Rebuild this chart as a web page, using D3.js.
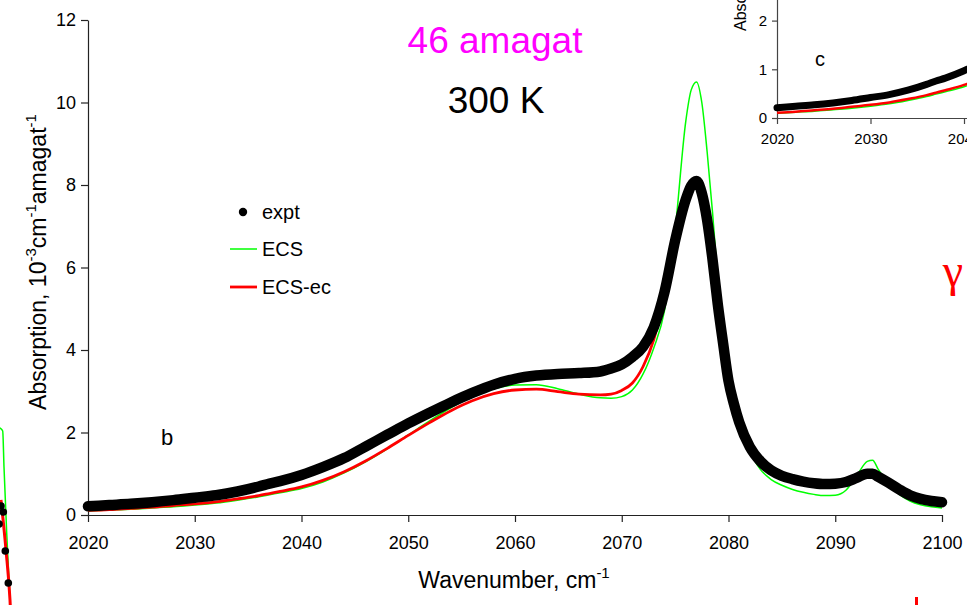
<!DOCTYPE html>
<html>
<head>
<meta charset="utf-8">
<script src="https://cdn.jsdelivr.net/npm/d3@7"></script>
<style>
  html, body { margin: 0; padding: 0; background: #fff; }
  svg { display: block; font-family: "Liberation Sans", Arial, sans-serif; }
</style>
</head>
<body>
<svg id="chart" width="967" height="605"></svg>
<script>
// Spectral grid, cm-1
const wavenumber = [2020,2022,2024,2026,2028,2030,2032,2034,2036,2037,2038,2040,2042,2044,2046,2048,2050,2052,2054,2056,2058,2060,2062,2064,2066,2068,2069,2070,2071,2072,2073,2074,2075,2076,2076.5,2077,2077.5,2078,2078.5,2079,2079.5,2080,2080.5,2081,2082,2083,2084,2085,2086,2087,2088,2089,2090,2091,2092,2093,2093.5,2094,2095,2096,2097,2098,2099,2100];

// Absorption, 10^-3 cm^-1 amagat^-1
const expt = [0.21,0.24,0.27,0.31,0.36,0.42,0.48,0.57,0.69,0.76,0.82,0.97,1.16,1.38,1.66,1.94,2.22,2.48,2.73,2.96,3.16,3.30,3.38,3.42,3.44,3.48,3.55,3.65,3.83,4.08,4.55,5.4,6.65,7.65,7.98,8.1,7.8,7.15,6.2,5.1,4.15,3.25,2.7,2.25,1.65,1.3,1.08,0.95,0.87,0.81,0.77,0.75,0.76,0.8,0.9,1.0,1.0,0.93,0.78,0.62,0.48,0.39,0.34,0.31];
const ecs = [0.10,0.12,0.14,0.17,0.20,0.24,0.29,0.36,0.44,0.49,0.54,0.64,0.80,1.02,1.29,1.60,1.94,2.28,2.60,2.88,3.06,3.15,3.16,3.06,2.93,2.84,2.83,2.87,3.03,3.42,4.05,4.95,6.9,9.55,10.3,10.5,10.0,8.8,7.35,5.7,4.4,3.35,2.7,2.2,1.55,1.1,0.86,0.72,0.62,0.55,0.5,0.47,0.48,0.6,0.95,1.3,1.33,1.12,0.76,0.5,0.34,0.25,0.2,0.17];
const ecsEc = [0.11,0.13,0.16,0.19,0.23,0.27,0.32,0.39,0.47,0.52,0.57,0.68,0.84,1.05,1.31,1.61,1.93,2.24,2.53,2.77,2.94,3.03,3.05,2.99,2.93,2.91,2.93,3.02,3.2,3.6,4.25,5.35,6.7,7.75,8.05,8.15,7.85,7.15,6.25,5.15,4.15,3.25,2.7,2.25,1.65,1.28,1.06,0.93,0.85,0.79,0.75,0.73,0.74,0.78,0.88,0.97,0.97,0.9,0.76,0.6,0.46,0.38,0.32,0.29];

const xTicks = [2020,2030,2040,2050,2060,2070,2080,2090,2100];
const yTicks = [0,2,4,6,8,10,12];
const insetXTicks = [2020,2030,2040,2050];
const insetYTicks = [0,1,2,3];

// Edge of the neighbouring panel (a)
const panelAGreenWave = [2097.6,2098.0,2098.54,2098.8,2099.34,2100,2100.2];
const panelAGreen = [19.3,19.2,18.9,15.3,8.7,2,0];
const panelARedWave = [2098.2,2099.2,2100,2100.2];
const panelARed = [12,7,2,0];
const panelADotWave = [2097.8,2098.2,2098.66,2099.06,2099.66];
const panelADot = [9.6,11.4,10.8,6.9,3.7];

const svg = d3.select("#chart");
const axisColor = "#222";

const x = d3.scaleLinear().domain([2020, 2100]).range([88, 942]);
const y = d3.scaleLinear().domain([0, 12]).range([515, 20]);

const rows = wavenumber.map((w, i) => ({ w, expt: expt[i], ecs: ecs[i], ecsEc: ecsEc[i] }));

function lineFor(key, xs, ys) {
  return d3.line().x(d => xs(d.w)).y(d => ys(d[key])).curve(d3.curveMonotoneX);
}

// ---- neighbouring panel fragment on the left edge
const xA = d3.scaleLinear().domain([2080, 2100]).range([-90, 10]);
const yA = d3.scaleLinear().domain([0, 20]).range([620, 420]);
const gA = svg.append("g");
gA.append("path")
  .attr("d", d3.line().x((d, i) => xA(panelAGreenWave[i])).y(d => yA(d)).curve(d3.curveMonotoneX)(panelAGreen))
  .attr("fill", "none").attr("stroke", "#00ff00").attr("stroke-width", 1.5);
gA.append("path")
  .attr("d", d3.line().x((d, i) => xA(panelARedWave[i])).y(d => yA(d)).curve(d3.curveMonotoneX)(panelARed))
  .attr("fill", "none").attr("stroke", "#ff0000").attr("stroke-width", 3);
gA.selectAll("circle").data(panelADot).join("circle")
  .attr("cx", (d, i) => xA(panelADotWave[i])).attr("cy", d => yA(d)).attr("r", 3.8).attr("fill", "#000");

// ---- main axes
const gx = svg.append("g").attr("transform", "translate(0,515)")
  .call(d3.axisBottom(x).tickValues(xTicks).tickFormat(d3.format("d")).tickSize(7).tickSizeOuter(0).tickPadding(14));
const gy = svg.append("g").attr("transform", "translate(88,0)")
  .call(d3.axisLeft(y).tickValues(yTicks).tickFormat(d3.format("d")).tickSize(7).tickSizeOuter(0).tickPadding(5));
[gx, gy].forEach(g => {
  g.selectAll("path, line").attr("stroke", axisColor).attr("stroke-width", 1.2);
  g.selectAll("text").attr("font-size", 18).attr("fill", "#000").attr("font-family", "Liberation Sans, Arial, sans-serif");
});

// ---- main curves
svg.append("path").datum(rows).attr("d", lineFor("ecs", x, y))
  .attr("fill", "none").attr("stroke", "#00ff00").attr("stroke-width", 1.5);
svg.append("path").datum(rows).attr("d", lineFor("ecsEc", x, y))
  .attr("fill", "none").attr("stroke", "#ff0000").attr("stroke-width", 2.8);
svg.append("path").datum(rows).attr("d", lineFor("expt", x, y))
  .attr("fill", "none").attr("stroke", "#000").attr("stroke-width", 10.5)
  .attr("stroke-linecap", "round").attr("stroke-linejoin", "round");

// ---- axis titles
const xt = svg.append("text").attr("x", 514).attr("y", 588).attr("text-anchor", "middle")
  .attr("font-size", 23).attr("fill", "#000");
xt.append("tspan").text("Wavenumber, cm");
xt.append("tspan").attr("font-size", 15).attr("dy", -10).text("-1");

const yt = svg.append("text").attr("transform", "translate(46,262) rotate(-90)")
  .attr("text-anchor", "middle").attr("font-size", 23).attr("fill", "#000");
yt.append("tspan").text("Absorption, 10");
yt.append("tspan").attr("font-size", 15).attr("dy", -10).text("-3");
yt.append("tspan").attr("dy", 10).text("cm");
yt.append("tspan").attr("font-size", 15).attr("dy", -10).text("-1");
yt.append("tspan").attr("dy", 10).text("amagat");
yt.append("tspan").attr("font-size", 15).attr("dy", -10).text("-1");

// ---- annotations
svg.append("text").attr("x", 495).attr("y", 53).attr("text-anchor", "middle")
  .attr("font-size", 37).attr("fill", "#ff00ff").text("46 amagat");
svg.append("text").attr("x", 496).attr("y", 113).attr("text-anchor", "middle")
  .attr("font-size", 37).attr("fill", "#000").text("300 K");
svg.append("text").attr("x", 167).attr("y", 445).attr("text-anchor", "middle")
  .attr("font-size", 22).attr("fill", "#000").text("b");

// ---- legend
const legend = svg.append("g");
const legendItems = [
  { label: "expt", kind: "dot", color: "#000", cy: 212 },
  { label: "ECS", kind: "line", color: "#00ff00", cy: 249, w: 1.5 },
  { label: "ECS-ec", kind: "line", color: "#ff0000", cy: 287, w: 2.8 }
];
legendItems.forEach(it => {
  if (it.kind === "dot") {
    legend.append("circle").attr("cx", 243).attr("cy", it.cy).attr("r", 4.2).attr("fill", it.color);
  } else {
    legend.append("line").attr("x1", 230).attr("x2", 257).attr("y1", it.cy).attr("y2", it.cy)
      .attr("stroke", it.color).attr("stroke-width", it.w);
  }
  legend.append("text").attr("x", 262).attr("y", it.cy).attr("dy", "0.36em")
    .attr("font-size", 20).attr("fill", "#000").text(it.label);
});

// ---- inset (panel c), low-wavenumber wing
const xi = d3.scaleLinear().domain([2020, 2100]).range([777, 777 + 8 * 93.5]);
const yi = d3.scaleLinear().domain([0, 3]).range([118, 118 - 3 * 48.7]);
const gi = svg.append("g");
gi.append("rect").attr("x", 720).attr("y", 0).attr("width", 247).attr("height", 160).attr("fill", "#fff");
const gix = gi.append("g").attr("transform", "translate(0,118)")
  .call(d3.axisBottom(xi).tickValues(insetXTicks).tickFormat(d3.format("d")).tickSize(6).tickSizeOuter(0).tickPadding(9));
const giy = gi.append("g").attr("transform", "translate(777,0)")
  .call(d3.axisLeft(yi).tickValues(insetYTicks).tickFormat(d3.format("d")).tickSize(5).tickSizeOuter(0).tickPadding(5));
[gix, giy].forEach(g => {
  g.selectAll("path, line").attr("stroke", "#444").attr("stroke-width", 1.2);
  g.selectAll("text").attr("font-size", 15).attr("fill", "#000").attr("font-family", "Liberation Sans, Arial, sans-serif");
});
gi.append("path").datum(rows).attr("d", lineFor("ecs", xi, yi))
  .attr("fill", "none").attr("stroke", "#00ff00").attr("stroke-width", 1.5);
gi.append("path").datum(rows).attr("d", lineFor("ecsEc", xi, yi))
  .attr("fill", "none").attr("stroke", "#ff0000").attr("stroke-width", 2.5);
gi.append("path").datum(rows).attr("d", lineFor("expt", xi, yi))
  .attr("fill", "none").attr("stroke", "#000").attr("stroke-width", 7)
  .attr("stroke-linecap", "round").attr("stroke-linejoin", "round");
gi.append("text").attr("x", 820).attr("y", 66).attr("text-anchor", "middle")
  .attr("font-size", 20).attr("fill", "#000").text("c");
const iyt = gi.append("text").attr("transform", "translate(746,31) rotate(-90)")
  .attr("text-anchor", "start").attr("font-size", 16).attr("fill", "#000");
iyt.append("tspan").text("Absorption, 10");
iyt.append("tspan").attr("font-size", 11).attr("dy", -7).text("-3");

// ---- edge of the neighbouring panel on the right
svg.append("text").attr("x", 953).attr("y", 286).attr("text-anchor", "middle")
  .attr("font-family", "Liberation Serif, 'Times New Roman', serif")
  .attr("font-size", 46).attr("fill", "#ff0000").text("γ");
svg.append("rect").attr("x", 915).attr("y", 597).attr("width", 3).attr("height", 10).attr("fill", "#ff0000");
</script>
</body>
</html>
